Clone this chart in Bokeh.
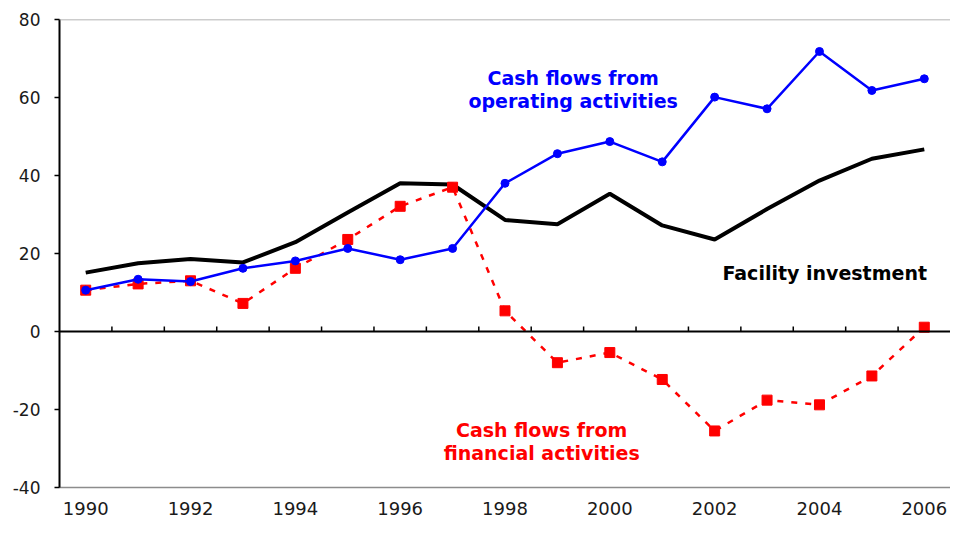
from bokeh.plotting import figure
from bokeh.models import Range1d, FixedTicker, Span, ColumnDataSource
from bokeh.core.properties import value
from bokeh.embed import file_html
from bokeh.resources import INLINE

years = list(range(1990, 2007))
facility = [15.1, 17.5, 18.6, 17.7, 22.9, 30.5, 38.0, 37.7, 28.6, 27.5, 35.3,
            27.2, 23.6, 31.4, 38.7, 44.3, 46.7]
operating = [10.6, 13.4, 12.8, 16.2, 18.1, 21.3, 18.4, 21.3, 38.0, 45.6, 48.7,
             43.5, 60.1, 57.1, 71.8, 61.8, 64.8]
financial = [10.6, 12.2, 13.0, 7.2, 16.2, 23.6, 32.1, 37.0, 5.3, -8.0, -5.4,
             -12.3, -25.5, -17.6, -18.8, -11.4, 1.1]
x_ticks = [1990, 1992, 1994, 1996, 1998, 2000, 2002, 2004, 2006]
y_ticks = [-40, -20, 0, 20, 40, 60, 80]
y_tick_labels = ["-40", "-20", "0", "20", "40", "60", "80"]
label_operating = ["Cash flows from", "operating activities"]
label_financial = ["Cash flows from", "financial activities"]
label_facility = ["Facility investment"]

TICK_FONT = "DejaVu Sans"
ANN_FONT = "DejaVu Sans"

p = figure(width=950, height=517, output_backend="svg", toolbar_location=None,
           x_range=Range1d(years[0] - 0.5, years[-1] + 0.5),
           y_range=Range1d(y_ticks[0], y_ticks[-1]),
           min_border_left=59, min_border_top=19, min_border_right=0,
           min_border_bottom=30)
p.outline_line_color = None
p.xgrid.grid_line_color = None
p.ygrid.grid_line_color = None
p.background_fill_color = "white"

# y axis
p.yaxis.ticker = FixedTicker(ticks=y_ticks)
p.yaxis.major_label_overrides = dict(zip(y_ticks, y_tick_labels))
p.yaxis.axis_line_color = "black"
p.yaxis.axis_line_width = 2
p.yaxis.major_tick_line_color = "black"
p.yaxis.major_tick_line_width = 1.5
p.yaxis.major_tick_out = 5
p.yaxis.major_tick_in = 0
p.yaxis.minor_tick_line_color = None
p.yaxis.major_label_standoff = 14
p.yaxis.major_label_text_font = TICK_FONT
p.yaxis.major_label_text_font_size = "17px"
p.yaxis.major_label_text_color = "#1a1a1a"

# x axis: gray bottom frame line, labels only
p.xaxis.ticker = FixedTicker(ticks=x_ticks)
p.xaxis.axis_line_color = "#8c8c8c"
p.xaxis.axis_line_width = 1.5
p.xaxis.major_tick_line_color = None
p.xaxis.major_tick_out = 0
p.xaxis.major_tick_in = 0
p.xaxis.minor_tick_line_color = None
p.xaxis.major_label_standoff = 14
p.xaxis.major_label_text_font = TICK_FONT
p.xaxis.major_label_text_font_size = "18px"
p.xaxis.major_label_text_color = "#1a1a1a"

# top frame line and zero line
p.add_layout(Span(location=y_ticks[-1], dimension="width", line_color="#9a9a9a", line_width=1.5))
p.add_layout(Span(location=0, dimension="width", line_color="black", line_width=2))

# category boundary ticks on zero line
bounds = [y + 0.5 for y in years[:-1]]
p.segment(x0=bounds, y0=[0] * len(bounds), x1=bounds, y1=[1.3] * len(bounds),
          line_color="black", line_width=1.5)

src = ColumnDataSource(dict(year=years, fac=facility, op=operating, fin=financial))

p.line("year", "fac", source=src, line_color="black", line_width=4)
p.line("year", "fin", source=src, line_color="#ff0000", line_width=2.5, line_dash="6 8")
p.scatter("year", "fin", source=src, marker="square", size=10,
          fill_color="#ff0000", line_color="#ff0000")
p.line("year", "op", source=src, line_color="#0000ff", line_width=2.5)
p.scatter("year", "op", source=src, marker="circle", size=8,
          fill_color="#0000ff", line_color="#0000ff")

# annotations
p.text(x=[1999.3, 1999.3], y=[64.9, 59.0], text=label_operating,
       text_font=value(ANN_FONT), text_font_style="bold", text_font_size="19px",
       text_color="#0000ff", text_align="center", text_baseline="middle")
p.text(x=[1998.7, 1998.7], y=[-25.2, -31.1], text=label_financial,
       text_font=value(ANN_FONT), text_font_style="bold", text_font_size="19px",
       text_color="#ff0000", text_align="center", text_baseline="middle")
p.text(x=[2004.1], y=[15.1], text=label_facility,
       text_font=value(ANN_FONT), text_font_style="bold", text_font_size="19px",
       text_color="black", text_align="center", text_baseline="middle")

open("out.html", "w").write(file_html(p, INLINE))
